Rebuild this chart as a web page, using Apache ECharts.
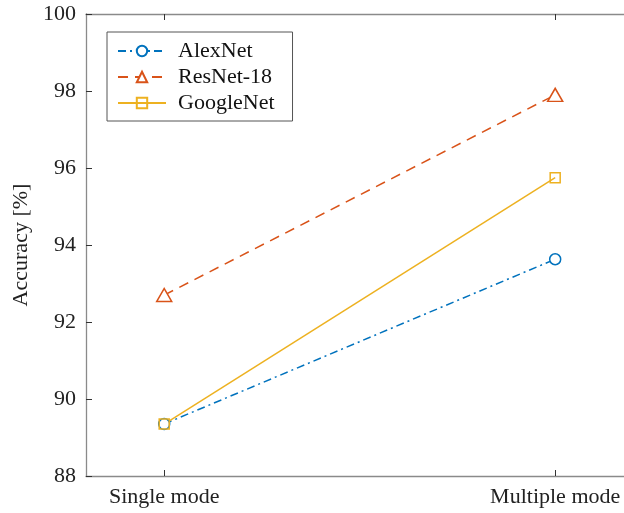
<!DOCTYPE html>
<html>
<head>
<meta charset="utf-8">
<script src="https://cdn.jsdelivr.net/npm/echarts@6/dist/echarts.min.js"></script>
<style>html,body{margin:0;padding:0;background:#fff;}#c{width:624px;height:513px;}</style>
</head>
<body>
<div id="c"></div>
<script>
var categories = ['Single mode', 'Multiple mode'];
var xPositions = [1, 2];
var alexNet = [89.35, 93.63];
var resNet18 = [92.70, 97.90];
var googleNet = [89.35, 95.75];
var yTicks = [88, 90, 92, 94, 96, 98, 100];

function pairs(vals) { return vals.map(function (v, i) { return [xPositions[i], v]; }); }
var FONT = 'Liberation Serif';
var axisCol = '#8a8a8a';

var chart = echarts.init(document.getElementById('c'), null, {renderer: 'canvas'});
chart.setOption({
  animation: false,
  backgroundColor: '#fff',
  grid: {left: 86, top: 14, right: 0, bottom: 37, containLabel: false},
  legend: {
    orient: 'vertical', left: 107, top: 32,
    padding: [8, 18, 7, 10],
    itemWidth: 48, itemHeight: 13, itemGap: 4,
    borderColor: '#555', borderWidth: 1, backgroundColor: '#fff',
    textStyle: {fontFamily: FONT, fontSize: 22, color: '#111', padding: [0, 0, 0, 7]},
    data: ['AlexNet', 'ResNet-18', 'GoogleNet']
  },
  xAxis: [{
    type: 'value', min: 0.8, max: 2.176, position: 'bottom',
    axisLine: {show: true, lineStyle: {color: axisCol, width: 1.3}},
    axisTick: {show: true, inside: true, length: 6, customValues: xPositions, lineStyle: {color: '#333'}},
    axisLabel: {show: true, customValues: xPositions, margin: 10, fontFamily: FONT, fontSize: 22, color: '#222',
      formatter: function (v) { var i = xPositions.indexOf(Math.round(v)); return i >= 0 ? categories[i] : ''; }},
    splitLine: {show: false}
  }, {
    type: 'value', min: 0.8, max: 2.176, position: 'top',
    axisLine: {show: true, lineStyle: {color: axisCol, width: 1.3}},
    axisTick: {show: true, inside: true, length: 6, customValues: xPositions, lineStyle: {color: '#333'}},
    axisLabel: {show: false},
    splitLine: {show: false}
  }],
  yAxis: [{
    type: 'value', min: 88, max: 100, interval: 2, position: 'left',
    name: 'Accuracy [%]', nameLocation: 'middle', nameGap: 51, nameRotate: 90,
    nameTextStyle: {fontFamily: FONT, fontSize: 22, color: '#222'},
    axisLine: {show: true, lineStyle: {color: axisCol, width: 1.3}},
    axisTick: {show: true, inside: true, length: 6, customValues: yTicks, lineStyle: {color: '#333'}},
    axisLabel: {margin: 10, fontFamily: FONT, fontSize: 22, color: '#222', customValues: yTicks},
    splitLine: {show: false}
  }],
  series: [{
    name: 'AlexNet', type: 'line', data: pairs(alexNet),
    symbol: 'circle', symbolSize: 11,
    itemStyle: {color: '#fff', borderColor: '#0072BD', borderWidth: 1.5},
    lineStyle: {color: '#0072BD', width: 1.5, type: [8, 4, 2, 4]},
    color: '#0072BD'
  }, {
    name: 'ResNet-18', type: 'line', data: pairs(resNet18),
    symbol: 'triangle', symbolSize: [15, 13],
    itemStyle: {color: '#fff', borderColor: '#D95319', borderWidth: 1.5},
    lineStyle: {color: '#D95319', width: 1.5, type: [10, 7]},
    color: '#D95319'
  }, {
    name: 'GoogleNet', type: 'line', data: pairs(googleNet),
    symbol: 'rect', symbolSize: 10,
    itemStyle: {color: 'rgba(255,255,255,0)', borderColor: '#EDB120', borderWidth: 1.5},
    lineStyle: {color: '#EDB120', width: 1.5, type: 'solid'},
    color: '#EDB120'
  }]
});
</script>
</body>
</html>
